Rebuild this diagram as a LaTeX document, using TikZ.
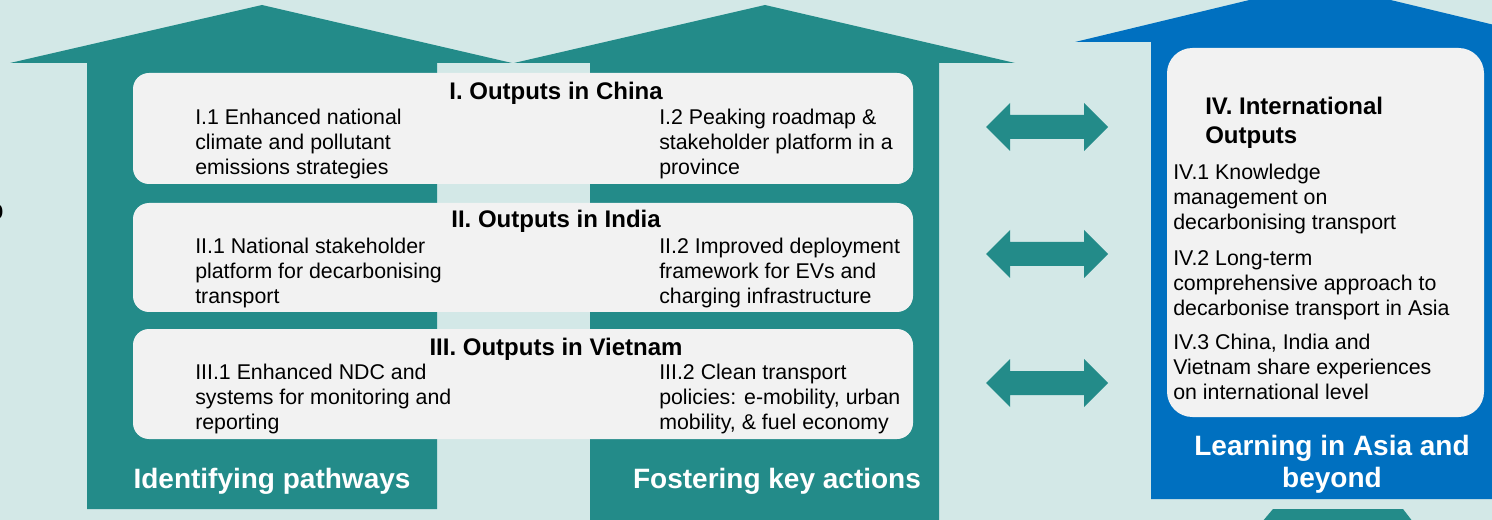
\documentclass[tikz,border=0pt]{standalone}
\usepackage{fontspec}
\setmainfont{Liberation Sans}
\definecolor{bgc}{HTML}{D3E8E7}
\definecolor{tealc}{HTML}{238B89}
\definecolor{bluec}{HTML}{0070C0}
\definecolor{boxc}{HTML}{F2F2F2}
\begin{document}
\begin{tikzpicture}[x=0.75pt,y=-0.75pt,
  body/.style={anchor=north west, inner sep=0pt, align=left, font=\fontsize{16}{18.75}\selectfont},
  rowtitle/.style={anchor=base, inner sep=0pt, font=\bfseries\fontsize{18}{21}\selectfont},
  lbl/.style={inner sep=0pt, text=white, align=center, font=\bfseries\fontsize{21}{24}\selectfont},
  whitebox/.style={fill=boxc, rounded corners=12pt},
  dblarrow/.style={fill=tealc}]
\useasboundingbox (0,0) rectangle (1492,520);
\fill[bgc] (0,0) rectangle (1492,520);
% partial glyph at left edge
\node[inner sep=0pt, anchor=east, font=\fontsize{21}{24}\selectfont] (edge) at (4,212) {o};
% up arrows
\fill[tealc] (10,63) -- (262,5) -- (512,63) -- (437,63) -- (437,509) -- (87,509) -- (87,63) -- cycle;
\fill[tealc] (514,63) -- (765,5) -- (1015,63) -- (939,63) -- (939,530) -- (590,530) -- (590,63) -- cycle;
\fill[bluec] (1075,42) -- (1320,-17) -- (1565,42) -- (1500,42) -- (1500,499) -- (1151,499) -- (1151,42) -- cycle;
\fill[tealc] (1262,522) -- (1273,509) -- (1403,509) -- (1413,522) -- cycle;
% row boxes
\fill[whitebox] (133,73) rectangle (913,184);
\fill[whitebox] (133,203) rectangle (913,312);
\fill[whitebox] (133,329) rectangle (913,439);
\fill[whitebox, rounded corners=19pt] (1167,48) rectangle (1484,417);
% double arrows
\foreach \c in {127,254,383}{
  \fill[dblarrow] (986,\c) -- (1010,\c-24) -- (1010,\c-12) -- (1084,\c-12) -- (1084,\c-24) -- (1108,\c)
    -- (1084,\c+24) -- (1084,\c+12) -- (1010,\c+12) -- (1010,\c+24) -- cycle;
}
% row 1
\node[rowtitle] (t1) at (556,100) {I. Outputs in China};
\node[body] (a1) at (195,109) {I.1 Enhanced national\\climate and pollutant\\emissions strategies};
\node[body] (b1) at (659,109) {I.2 Peaking roadmap \&\\stakeholder platform in a\\province};
% row 2
\node[rowtitle] (t2) at (556,228) {II. Outputs in India};
\node[body] (a2) at (195,238) {II.1 National stakeholder\\platform for decarbonising\\transport};
\node[body] (b2) at (659,238) {II.2 Improved deployment\\framework for EVs and\\charging infrastructure};
% row 3
\node[rowtitle] (t3) at (556,355) {III. Outputs in Vietnam};
\node[body] (a3) at (195,364) {III.1 Enhanced NDC and\\systems for monitoring and\\reporting};
\node[body] (b3) at (659,364) {III.2 Clean transport\\policies: e-mobility, urban\\mobility, \& fuel economy};
% international
\node[anchor=north west, inner sep=0pt, align=left, font=\bfseries\fontsize{18}{21.75}\selectfont] (t4) at (1205,97) {IV. International\\Outputs};
\node[body] (c1) at (1173,164) {IV.1 Knowledge\\management on\\decarbonising transport};
\node[body] (c2) at (1173,250) {IV.2 Long-term\\comprehensive approach to\\decarbonise transport in Asia};
\node[body] (c3) at (1173,334) {IV.3 China, India and\\Vietnam share experiences\\on international level};
% bottom labels
\node[lbl, anchor=base] (l1) at (272,488) {Identifying pathways};
\node[lbl, anchor=base] (l2) at (777,488) {Fostering key actions};
\node[lbl, anchor=north] (l3) at (1332,435) {Learning in Asia and\\beyond};
\end{tikzpicture}
\end{document}
